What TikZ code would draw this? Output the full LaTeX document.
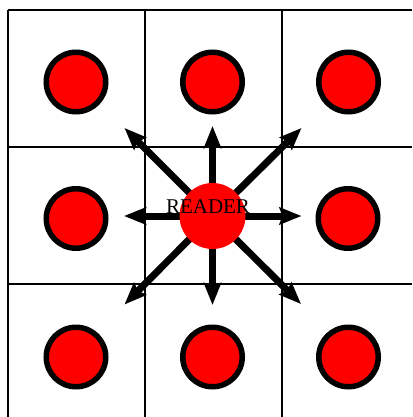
\documentclass[tikz,border=0pt]{standalone}
\usepackage{fontspec}
\setmainfont{Liberation Serif}
\usetikzlibrary{arrows.meta}
\begin{document}
\begin{tikzpicture}[x=1pt,y=-1pt,
  gridline/.style={line width=2pt,black},
  dot/.style={circle,draw=black,line width=5.5pt,fill=red,minimum size=59.5pt,inner sep=0pt},
  readerdot/.style={circle,fill=red,minimum size=66pt,inner sep=0pt},
  ray/.style={line width=7pt,-{Stealth[length=22pt,width=17pt,inset=3pt]}}]
\useasboundingbox (0,0) rectangle (412,417);
\fill[white] (0,0) rectangle (412,417);
% grid
\draw[gridline] (8,10) -- (412,10);
\draw[gridline] (8,147) -- (412,147);
\draw[gridline] (8,284) -- (412,284);
\draw[gridline] (8,10) -- (8,417);
\draw[gridline] (144.5,10) -- (144.5,417);
\draw[gridline] (281.5,10) -- (281.5,417);
% surrounding dots
\node[dot] (d11) at (76,82) {};
\node[dot] (d12) at (212.5,82) {};
\node[dot] (d13) at (348.5,82) {};
\node[dot] (d21) at (76,218.5) {};
\node[dot] (d23) at (348,218.5) {};
\node[dot] (d31) at (76,357) {};
\node[dot] (d32) at (212.5,357) {};
\node[dot] (d33) at (348.5,357) {};
% rays
\coordinate (c) at (212.5,216);
\coordinate (tN) at (212.5,126);
\coordinate (tS) at (212.5,305);
\coordinate (tE) at (301.5,216);
\coordinate (tW) at (124,216);
\coordinate (tNE) at (301.5,128);
\coordinate (tNW) at (124.5,128);
\coordinate (tSE) at (301,304);
\coordinate (tSW) at (124.5,304.5);
\foreach \t in {tN,tS,tE,tW,tNE,tNW,tSE,tSW} \draw[ray] (c) -- (\t);
% reader
\node[readerdot] (reader) at (c) {};
\node[font=\fontsize{21pt}{21pt}\selectfont,inner sep=0pt] (readerlabel) at (208,207) {READER};
\end{tikzpicture}
\end{document}
